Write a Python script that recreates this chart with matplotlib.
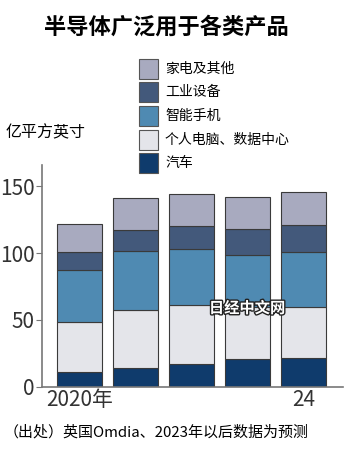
import matplotlib
matplotlib.use("Agg")
import matplotlib.pyplot as plt
import matplotlib.patheffects as pe
from matplotlib.patches import Rectangle
import numpy as np

plt.rcParams['font.family'] = ['Noto Sans CJK SC', 'DejaVu Sans']

years = ['2020年', '', '', '', '24']
series_names = ['汽车', '个人电脑、数据中心', '智能手机', '工业设备', '家电及其他']
car = [11, 14, 17, 20.5, 21.7]
pc_dc = [37.5, 43.3, 44.3, 39.5, 37.8]
phone = [39, 44, 41.5, 39, 41.3]
industry = [13.5, 16, 17.7, 19.3, 20.2]
other = [21, 24, 24, 23.7, 24.5]
colors = ['#0f3b6c', '#e4e5ea', '#4f8ab2', '#43597b', '#a8aabf']

fig = plt.figure(figsize=(3.55, 4.5), dpi=100)
ax = fig.add_axes([0.118, 0.141, 0.848, 0.492])

x = np.arange(len(years))
bottom = np.zeros(len(years))
for vals, col in zip([car, pc_dc, phone, industry, other], colors):
    ax.bar(x, vals, 0.8, bottom=bottom, color=col, edgecolor='#3a3a3a', linewidth=0.8)
    bottom += np.array(vals)

ax.set_xlim(-0.67, 4.7)
ax.set_ylim(0, 166)
ax.set_yticks([0, 50, 100, 150])
ax.set_xticks(x)
ax.set_xticklabels(years)
for s in ['top', 'right']:
    ax.spines[s].set_visible(False)
for s in ['left', 'bottom']:
    ax.spines[s].set_color('#777777')
    ax.spines[s].set_linewidth(1.2)
ax.tick_params(axis='y', length=4, color='#777777', labelsize=15, pad=1)
ax.tick_params(axis='x', length=0, labelsize=15, pad=2)
for lab in ax.get_xticklabels() + ax.get_yticklabels():
    lab.set_color('#333333')

fig.text(0.47, 0.94, '半导体广泛用于各类产品', ha='center', va='center',
         fontsize=16, fontweight='bold')
fig.text(0.015, 0.705, '亿平方英寸', ha='left', va='center', fontsize=11.5)

# legend, top entry first
leg_y = [69, 92, 116, 140, 163]
for yy, name, col in zip(leg_y, series_names[::-1], colors[::-1]):
    fig.patches.append(Rectangle((139 / 355, 1 - (yy + 10) / 450), 19 / 355, 20 / 450,
                                 transform=fig.transFigure, facecolor=col,
                                 edgecolor='#555555', linewidth=0.8))
    fig.text(165 / 355, 1 - yy / 450, name, ha='left', va='center', fontsize=10)

fig.text(0.01, 0.04, '（出处）英国Omdia、2023年以后数据为预测', ha='left', va='center',
         fontsize=10.8)

fig.text(247 / 355, 1 - 308 / 450, '日经中文网', ha='center', va='center', fontsize=11,
         fontweight='bold', color='white',
         path_effects=[pe.withStroke(linewidth=2, foreground='#222222')])

fig.savefig('out.png', dpi=100)
